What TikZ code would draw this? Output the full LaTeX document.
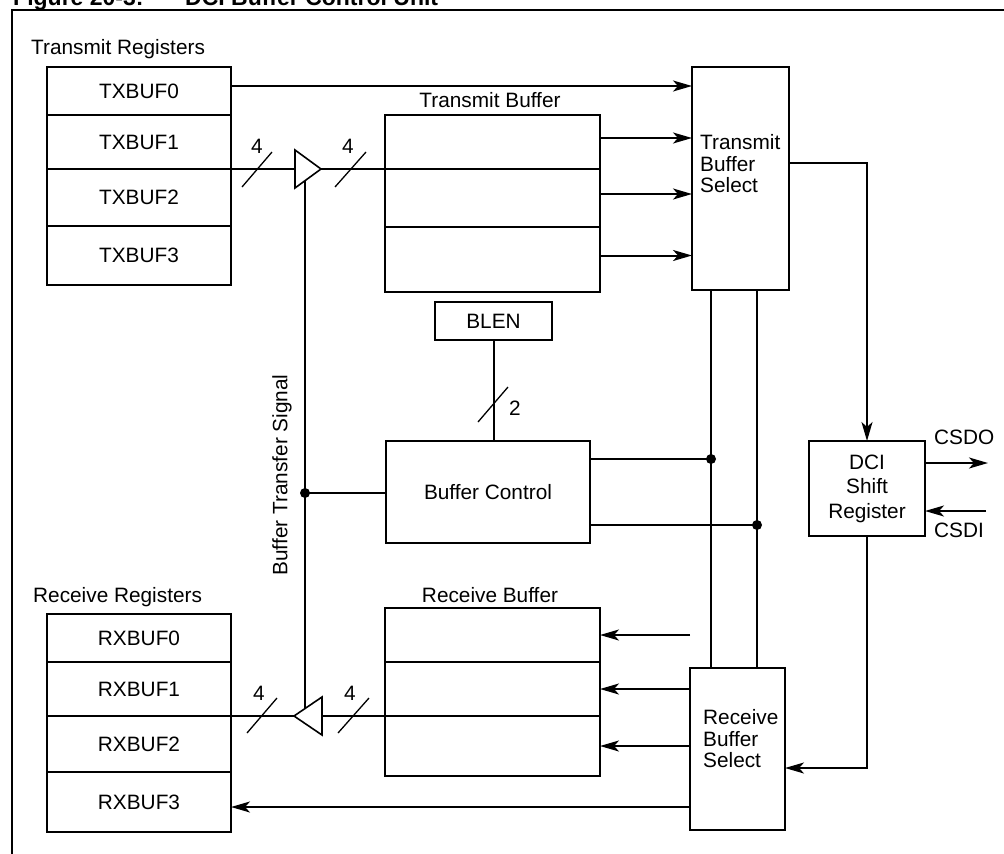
\documentclass[tikz,border=0pt]{standalone}
\usepackage{fontspec}
\setmainfont{Liberation Sans}
\usetikzlibrary{arrows.meta}
\tikzset{
  lab/.style={font=\fontsize{20.8}{25}\selectfont},
  reg/.style={draw, line width=2pt, minimum width=184pt, inner sep=0pt, outer sep=0pt, lab},
  buf/.style={draw, line width=2pt, minimum width=215pt, inner sep=0pt, outer sep=0pt},
  blk/.style={draw, line width=2pt, inner sep=0pt, outer sep=0pt},
  wire/.style={line width=2pt},
  arr/.style={line width=2pt, -{Stealth[length=19pt,width=11pt,inset=5pt]}},
  slash/.style={line width=1.3pt},
  junction/.style={circle, fill, inner sep=0pt, minimum size=10pt},
  txt/.style={lab, inner sep=0pt}
}
\begin{document}
\begin{tikzpicture}[x=1pt,y=-1pt]
\useasboundingbox (0,0) rectangle (1004,854);
\clip (0,0) rectangle (1004,854);
\fill[white] (0,0) rectangle (1004,854);
% title (cut off at the top) and frame
\node[anchor=base west, inner sep=0pt, font=\fontsize{23}{27}\selectfont\bfseries] (ttl1) at (13,5) {Figure 20-3:};
\node[anchor=base west, inner sep=0pt, font=\fontsize{23}{27}\selectfont\bfseries] (ttl2) at (185,5) {DCI Buffer Control Unit};
\draw[line width=2pt] (12,870) -- (12,10) -- (1020,10);

% transmit registers
\node[txt, anchor=west] (txlab) at (31,49) {Transmit Registers};
\node[reg, minimum height=48pt] (TXBUF0) at (139,91) {TXBUF0};
\node[reg, minimum height=54pt] (TXBUF1) at (139,142) {TXBUF1};
\node[reg, minimum height=57pt] (TXBUF2) at (139,197.5) {TXBUF2};
\node[reg, minimum height=59pt] (TXBUF3) at (139,255.5) {TXBUF3};

% transmit buffer
\node[txt] (tblab) at (490,100) {Transmit Buffer};
\node[buf, minimum height=54pt] (tb1) at (492.5,142) {};
\node[buf, minimum height=58pt] (tb2) at (492.5,198) {};
\node[buf, minimum height=65pt] (tb3) at (492.5,259.5) {};

% transmit buffer select
\node[blk, minimum width=97pt, minimum height=223pt] (tbs) at (740.5,178.5) {};
\node[txt, anchor=west, align=left, font=\fontsize{20.8}{21.5}\selectfont] (tbsl) at (700,164) {Transmit\\Buffer\\Select};

\draw[arr] ([yshift=5pt]TXBUF0.east) -- ([yshift=5pt]TXBUF0.east -| tbs.west);
\draw[arr] ([yshift=4pt]tb1.east) -- ([yshift=4pt]tb1.east -| tbs.west);
\draw[arr] ([yshift=4pt]tb2.east) -- ([yshift=4pt]tb2.east -| tbs.west);
\draw[arr] ([yshift=4pt]tb3.east) -- ([yshift=4pt]tb3.east -| tbs.west);

% transmit bus with driver
\coordinate (t1base) at (295,169);
\coordinate (t1tip) at (321,169);
\draw[line width=1.6pt, line join=miter] (295,150) -- (t1tip) -- (295,188) -- cycle;
\draw[wire] (TXBUF1.south east) -- (t1base);
\draw[wire] (t1tip) -- (tb1.south west);
\draw[slash] (242,187) -- (272,152);
\node[txt] (n4a) at (257,146) {4};
\draw[slash] (335,187) -- (366,152);
\node[txt] (n4b) at (348,146) {4};

% BLEN and buffer control
\node[blk, minimum width=117pt, minimum height=38pt, lab] (blen) at (493.5,321) {BLEN};
\node[blk, minimum width=204pt, minimum height=102pt, lab] (bc) at (488,492) {Buffer Control};
\draw[wire] (blen.south) -- (blen.south |- bc.north);
\draw[slash] (478,422) -- (508,387);
\node[txt] (n2) at (515,408) {2};

% buffer transfer signal
\coordinate (bts1) at (305,181);
\coordinate (bts2) at (305,708);
\draw[wire] (bts1) -- (bts2);
\node[junction] (jb) at (305,493) {};
\draw[wire] (jb.center) -- (jb.center -| bc.west);
\node[txt, rotate=90] (btslab) at (282,475) {Buffer Transfer Signal};

% receive buffer select
\node[blk, minimum width=95pt, minimum height=162pt] (rbs) at (737.5,749) {};
\node[txt, anchor=west, align=left, font=\fontsize{20.8}{21.5}\selectfont] (rbsl) at (703,739) {Receive\\Buffer\\Select};

% control lines
\draw[wire] (tbs.south -| 711,0) -- (rbs.north -| 711,0);
\draw[wire] (tbs.south -| 757,0) -- (rbs.north -| 757,0);
\node[junction] (j1) at (711,459) {};
\node[junction] (j2) at (757,525) {};
\draw[wire] (bc.east |- j1.center) -- (j1.center);
\draw[wire] (bc.east |- j2.center) -- (j2.center);

% DCI shift register
\node[blk, minimum width=116pt, minimum height=95pt, align=center, font=\fontsize{20.8}{24.5}\selectfont] (dci) at (867,488.5) {DCI\\Shift\\Register};
\draw[arr] ([yshift=15.5pt]tbs.east) -| (dci.north);
\draw[arr] (dci.south) |- ([yshift=-19pt]rbs.east);
\coordinate (csdoend) at (988,463);
\coordinate (csdistart) at (986,511);
\draw[arr] (dci.east |- csdoend) -- (csdoend);
\draw[arr] (csdistart) -- (csdistart -| dci.east);
\node[txt, anchor=west] (csdo) at (934,437) {CSDO};
\node[txt, anchor=west] (csdi) at (934,530) {CSDI};

% receive registers
\node[txt, anchor=west] (rxlab) at (33,597) {Receive Registers};
\node[reg, minimum height=48pt] (RXBUF0) at (139,638) {RXBUF0};
\node[reg, minimum height=54pt] (RXBUF1) at (139,689) {RXBUF1};
\node[reg, minimum height=56pt] (RXBUF2) at (139,744) {RXBUF2};
\node[reg, minimum height=60pt] (RXBUF3) at (139,802) {RXBUF3};

% receive buffer
\node[txt] (rblab) at (490,595) {Receive Buffer};
\node[buf, minimum height=54pt] (rb1) at (492.5,635) {};
\node[buf, minimum height=54pt] (rb2) at (492.5,689) {};
\node[buf, minimum height=60pt] (rb3) at (492.5,746) {};

\draw[arr] (rbs.west |- rb1.east) -- (rb1.east);
\draw[arr] (rbs.west |- rb2.east) -- (rb2.east);
\draw[arr] (rbs.west |- rb3.east) -- (rb3.east);
\draw[arr] ([yshift=-5pt]rbs.west |- RXBUF3.east) -- ([yshift=-5pt]RXBUF3.east);

% receive bus with driver
\coordinate (t2tip) at (294,716);
\coordinate (t2base) at (322,716);
\draw[line width=1.6pt, line join=miter] (322,697) -- (t2tip) -- (322,735) -- cycle;
\draw[wire] (rb2.south west) -- (t2base);
\draw[wire] (t2tip) -- (RXBUF1.south east);
\draw[slash] (247,733) -- (277,698);
\node[txt] (n4c) at (259,693) {4};
\draw[slash] (338,733) -- (369,698);
\node[txt] (n4d) at (350,693) {4};
\end{tikzpicture}
\end{document}
